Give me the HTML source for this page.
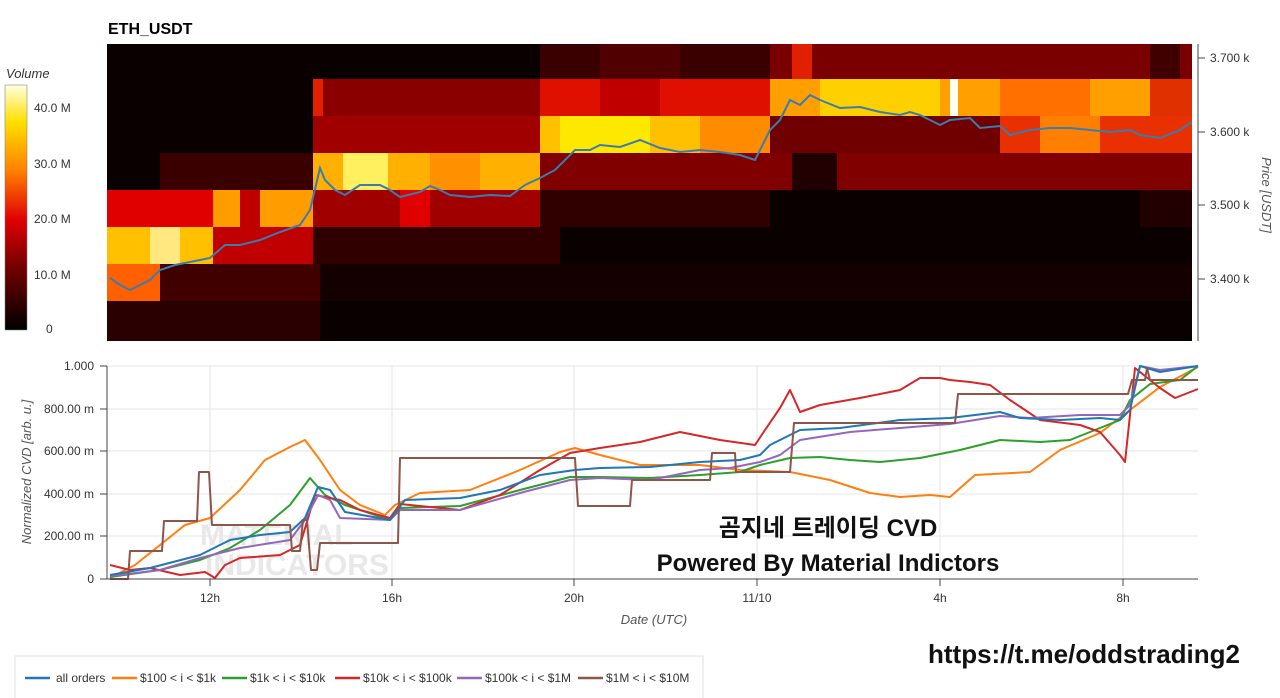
<!DOCTYPE html>
<html><head><meta charset="utf-8"><style>
html,body{margin:0;padding:0;background:#fff;width:1280px;height:698px;overflow:hidden}
svg{display:block;font-family:"Liberation Sans","Noto Sans CJK KR",sans-serif}
</style></head><body>
<svg width="1280" height="698" viewBox="0 0 1280 698" xmlns="http://www.w3.org/2000/svg">
<defs>
<linearGradient id="cb" x1="0" y1="1" x2="0" y2="0">
<stop offset="0" stop-color="#000"/><stop offset="0.25" stop-color="#700000"/><stop offset="0.45" stop-color="#e00000"/><stop offset="0.65" stop-color="#ff8000"/><stop offset="0.85" stop-color="#ffe000"/><stop offset="1" stop-color="#ffffe0"/>
</linearGradient>
</defs>
<text x="108" y="34" font-size="16" font-weight="bold">ETH_USDT</text>
<text x="6" y="78" font-size="13" font-style="italic" fill="#333">Volume</text>
<rect x="5" y="85" width="22" height="245" fill="url(#cb)" stroke="#777" stroke-width="0.5"/>
<g font-size="12" fill="#333">
<text x="34" y="112">40.0 M</text><text x="34" y="168">30.0 M</text><text x="34" y="223">20.0 M</text><text x="34" y="279">10.0 M</text><text x="46" y="333">0</text>
</g>
<rect x="107" y="44" width="1085" height="297" fill="#0a0000"/>
<g>
<rect x="540" y="44" width="230" height="35" fill="#3a0000"/>
<rect x="600" y="44" width="80" height="35" fill="#500000"/>
<rect x="770" y="44" width="422" height="35" fill="#7a0000"/>
<rect x="792" y="44" width="20" height="35" fill="#e02000"/>
<rect x="1150" y="44" width="30" height="35" fill="#400000"/>
<rect x="313" y="79" width="227" height="37" fill="#8a0000"/>
<rect x="313" y="79" width="10" height="37" fill="#e02000"/>
<rect x="540" y="79" width="230" height="37" fill="#e01000"/>
<rect x="600" y="79" width="60" height="37" fill="#c00000"/>
<rect x="770" y="79" width="380" height="37" fill="#ffa000"/>
<rect x="820" y="79" width="120" height="37" fill="#ffd000"/>
<rect x="950" y="79" width="8" height="37" fill="#fffff0"/>
<rect x="1000" y="79" width="90" height="37" fill="#ff7000"/>
<rect x="1150" y="79" width="42" height="37" fill="#e03000"/>
<rect x="313" y="116" width="227" height="37" fill="#a00000"/>
<rect x="540" y="116" width="230" height="37" fill="#ffc000"/>
<rect x="560" y="116" width="90" height="37" fill="#ffe800"/>
<rect x="700" y="116" width="70" height="37" fill="#ff8c00"/>
<rect x="770" y="116" width="230" height="37" fill="#700000"/>
<rect x="1000" y="116" width="192" height="37" fill="#e83000"/>
<rect x="1040" y="116" width="60" height="37" fill="#ff8000"/>
<rect x="160" y="153" width="153" height="37" fill="#3a0000"/>
<rect x="313" y="153" width="227" height="37" fill="#ffb000"/>
<rect x="343" y="153" width="45" height="37" fill="#fff060"/>
<rect x="430" y="153" width="50" height="37" fill="#ff9000"/>
<rect x="540" y="153" width="252" height="37" fill="#800000"/>
<rect x="792" y="153" width="45" height="37" fill="#200000"/>
<rect x="837" y="153" width="355" height="37" fill="#800000"/>
<rect x="107" y="190" width="106" height="37" fill="#e00000"/>
<rect x="213" y="190" width="100" height="37" fill="#ff9c00"/>
<rect x="240" y="190" width="20" height="37" fill="#c00000"/>
<rect x="313" y="190" width="227" height="37" fill="#a00000"/>
<rect x="400" y="190" width="30" height="37" fill="#e00000"/>
<rect x="540" y="190" width="230" height="37" fill="#300000"/>
<rect x="1140" y="190" width="52" height="37" fill="#200000"/>
<rect x="107" y="227" width="106" height="37" fill="#ffc000"/>
<rect x="150" y="227" width="30" height="37" fill="#ffe880"/>
<rect x="213" y="227" width="100" height="37" fill="#c00000"/>
<rect x="313" y="227" width="247" height="37" fill="#300000"/>
<rect x="107" y="264" width="53" height="37" fill="#ff6000"/>
<rect x="160" y="264" width="160" height="37" fill="#400000"/>
<rect x="320" y="264" width="872" height="37" fill="#150000"/>
<rect x="107" y="301" width="213" height="40" fill="#2a0000"/>
</g>
<polyline fill="none" stroke="#3b7cb0" stroke-width="2" points="110,278 120,285 130,290 140,285 150,280 160,270 175,265 190,262 200,260 210,258 225,245 240,245 260,240 280,232 300,225 310,210 316,185 320,168 325,180 335,190 345,195 360,185 380,185 390,190 400,197 420,192 430,186 440,190 450,195 470,197 490,195 510,196 525,185 540,178 555,170 565,160 575,150 590,150 600,145 620,147 640,140 660,148 680,152 700,150 720,152 740,155 755,160 770,130 780,120 790,100 800,105 810,95 820,100 840,108 860,107 880,112 900,115 910,112 920,115 940,125 950,120 970,118 980,128 1000,126 1010,135 1030,130 1050,128 1070,128 1090,130 1110,132 1130,130 1140,135 1160,138 1180,130 1192,122"/>
<line x1="1198" y1="44" x2="1198" y2="341" stroke="#444"/>
<g stroke="#444"><line x1="1198" y1="58" x2="1205" y2="58"/><line x1="1198" y1="132" x2="1205" y2="132"/><line x1="1198" y1="205" x2="1205" y2="205"/><line x1="1198" y1="279" x2="1205" y2="279"/></g>
<g font-size="12" fill="#333"><text x="1210" y="62">3.700 k</text><text x="1210" y="136">3.600 k</text><text x="1210" y="209">3.500 k</text><text x="1210" y="283">3.400 k</text></g>
<text transform="translate(1262,195) rotate(90)" text-anchor="middle" font-size="13" font-style="italic" fill="#555">Price [USDT]</text>
<g stroke="#e6e6e6"><line x1="107" y1="366" x2="1198" y2="366"/><line x1="107" y1="409" x2="1198" y2="409"/><line x1="107" y1="451" x2="1198" y2="451"/><line x1="107" y1="494" x2="1198" y2="494"/><line x1="107" y1="536" x2="1198" y2="536"/>
<line x1="210" y1="366" x2="210" y2="579"/><line x1="392" y1="366" x2="392" y2="579"/><line x1="574" y1="366" x2="574" y2="579"/><line x1="757" y1="366" x2="757" y2="579"/><line x1="940" y1="366" x2="940" y2="579"/><line x1="1123" y1="366" x2="1123" y2="579"/></g>
<text x="200" y="545" font-size="30" font-weight="bold" fill="#e8e8e8">MATERIAL</text>
<text x="205" y="575" font-size="30" font-weight="bold" fill="#e8e8e8">INDICATORS</text>
<g fill="none" stroke-width="2" stroke-linejoin="round">
<polyline stroke="#ff7f0e" points="110,578 135,565 160,545 185,525 210,518 240,490 265,460 290,447 305,440 320,460 340,490 360,505 385,515 395,505 420,493 470,490 520,470 560,452 575,448 600,455 640,465 700,465 740,470 790,472 830,480 870,493 900,497 930,495 950,497 975,475 1030,472 1060,450 1100,433 1130,410 1160,387 1198,367"/>
<polyline stroke="#2ca02c" points="110,577 160,570 200,560 230,548 260,530 290,505 310,478 325,495 345,505 390,520 400,508 460,506 520,490 570,477 600,477 650,478 700,475 740,472 760,465 790,458 820,457 850,460 880,462 920,458 960,450 1000,440 1040,442 1070,440 1100,428 1120,420 1130,400 1150,384 1180,380 1198,366"/>
<polyline stroke="#d62728" points="110,565 130,570 150,568 180,575 205,572 215,578 225,565 240,558 280,555 300,545 315,495 340,500 360,510 390,518 400,504 460,510 500,495 540,470 570,453 600,448 640,442 680,432 720,440 755,445 765,430 780,408 790,390 800,412 820,405 860,398 900,390 920,378 940,378 950,380 970,382 990,385 1010,400 1040,420 1080,425 1100,432 1120,455 1125,462 1135,368 1160,388 1175,398 1198,389"/>
<polyline stroke="#9467bd" points="110,576 160,570 200,558 240,548 290,540 305,520 318,495 330,500 340,518 390,520 400,510 460,510 520,493 570,480 600,478 650,480 700,470 730,468 760,462 780,455 800,440 850,432 900,428 950,424 1000,416 1030,418 1080,415 1120,415 1130,405 1140,366 1160,370 1198,366"/>
<polyline stroke="#1f77b4" points="110,575 150,568 200,555 230,540 260,535 290,532 305,518 318,487 330,490 345,512 390,520 405,500 460,498 500,490 540,475 575,470 600,468 650,467 700,462 740,460 760,455 770,445 800,430 840,428 900,420 950,418 1000,412 1020,418 1060,420 1100,418 1120,420 1130,410 1140,366 1160,372 1198,366"/>
<polyline stroke="#8c564b" points="110,579 128,579 130,551 162,551 164,521 197,521 199,472 209,472 212,525 290,525 292,551 300,551 303,520 307,520 311,570 317,570 320,543 398,543 400,458 575,458 578,506 630,506 632,480 710,480 712,453 735,453 736,472 790,472 794,423 955,423 958,394 1128,394 1132,380 1145,380 1147,368 1150,380 1198,380"/>
</g>
<line x1="107" y1="366" x2="107" y2="579" stroke="#444"/>
<line x1="107" y1="579" x2="1198" y2="579" stroke="#444"/>
<g stroke="#444"><line x1="100" y1="366" x2="107" y2="366"/><line x1="100" y1="409" x2="107" y2="409"/><line x1="100" y1="451" x2="107" y2="451"/><line x1="100" y1="494" x2="107" y2="494"/><line x1="100" y1="536" x2="107" y2="536"/><line x1="100" y1="579" x2="107" y2="579"/>
<line x1="210" y1="579" x2="210" y2="586"/><line x1="392" y1="579" x2="392" y2="586"/><line x1="574" y1="579" x2="574" y2="586"/><line x1="757" y1="579" x2="757" y2="586"/><line x1="940" y1="579" x2="940" y2="586"/><line x1="1123" y1="579" x2="1123" y2="586"/></g>
<g font-size="12" fill="#333" text-anchor="end"><text x="94" y="370">1.000</text><text x="94" y="413">800.00 m</text><text x="94" y="455">600.00 m</text><text x="94" y="498">400.00 m</text><text x="94" y="540">200.00 m</text><text x="94" y="583">0</text></g>
<g font-size="12" fill="#333" text-anchor="middle"><text x="210" y="602">12h</text><text x="392" y="602">16h</text><text x="574" y="602">20h</text><text x="757" y="602">11/10</text><text x="940" y="602">4h</text><text x="1123" y="602">8h</text></g>
<text x="654" y="624" font-size="13" font-style="italic" fill="#555" text-anchor="middle">Date (UTC)</text>
<text transform="translate(31,472) rotate(-90)" text-anchor="middle" font-size="13" font-style="italic" fill="#555">Normalized CVD [arb. u.]</text>
<text x="828" y="536" font-size="24" font-weight="bold" text-anchor="middle" fill="#111">곰지네 트레이딩 CVD</text>
<text x="828" y="571" font-size="24" font-weight="bold" text-anchor="middle" fill="#111">Powered By Material Indictors</text>
<text x="1084" y="663" font-size="26" font-weight="bold" text-anchor="middle" fill="#111">https://t.me/oddstrading2</text>
<rect x="15" y="656" width="688" height="44" fill="#fff" stroke="#e0e0e0"/>
<g stroke-width="2.5">
<line x1="25" y1="678" x2="50" y2="678" stroke="#1f77b4"/><line x1="112" y1="678" x2="137" y2="678" stroke="#ff7f0e"/><line x1="222" y1="678" x2="247" y2="678" stroke="#2ca02c"/><line x1="335" y1="678" x2="360" y2="678" stroke="#d62728"/><line x1="457" y1="678" x2="482" y2="678" stroke="#9467bd"/><line x1="578" y1="678" x2="603" y2="678" stroke="#8c564b"/></g>
<g font-size="12" fill="#333"><text x="56" y="682">all orders</text><text x="140" y="682">$100 &lt; i &lt; $1k</text><text x="250" y="682">$1k &lt; i &lt; $10k</text><text x="363" y="682">$10k &lt; i &lt; $100k</text><text x="485" y="682">$100k &lt; i &lt; $1M</text><text x="606" y="682">$1M &lt; i &lt; $10M</text></g>
</svg>
</body></html>
